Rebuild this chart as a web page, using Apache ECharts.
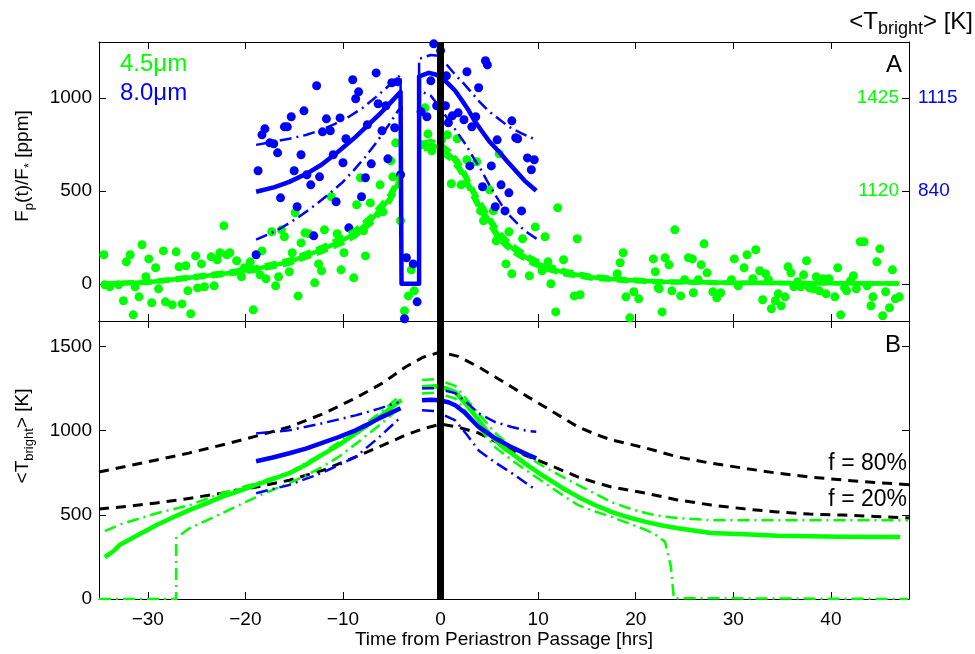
<!DOCTYPE html>
<html><head><meta charset="utf-8">
<script src="https://cdn.jsdelivr.net/npm/echarts@6/dist/echarts.min.js"></script>
<style>html,body{margin:0;padding:0;background:#fff}#c{width:975px;height:654px}</style>
</head><body><div id="c"></div>
<script>
// ---------- DATA ----------
const xRange = [-35, 48];
const fluxRange = [-200, 1300];
const tempRange = [0, 1650];
const rightTickGreen = {1000: '1425', 500: '1120'};
const rightTickBlue = {1000: '1115', 500: '840'};

const green45 = [[-34.5,156],[-34.4,-5],[-33.9,-16],[-33.0,-5],[-32.5,-91],[-32.2,118],[-31.8,156],[-31.5,-167],[-31.3,-16],[-30.9,-70],[-30.6,210],[-30.2,38],[-29.9,134],[-29.6,-102],[-29.2,86],[-28.9,-27],[-28.4,177],[-28.2,-97],[-27.5,-113],[-27.1,172],[-26.8,91],[-26.5,-108],[-26.1,97],[-25.9,-38],[-25.6,-161],[-25.1,150],[-24.9,-22],[-24.5,107],[-24.2,-16],[-23.5,145],[-23.2,-11],[-22.9,129],[-22.6,167],[-22.2,312],[-21.9,156],[-21.6,167],[-20.9,124],[-20.4,38],[-20.1,86],[-19.5,118],[-19.2,-140],[-18.5,48],[-18.3,177],[-17.9,27],[-17.3,280],[-16.9,-11],[-16.6,38],[-16.3,290],[-16.0,253],[-15.5,65],[-15.2,167],[-14.9,382],[-14.6,-65],[-14.3,220],[-13.9,274],[-13.5,269],[-12.9,5],[-12.5,107],[-12.2,70],[-11.9,290],[-11.2,468],[-10.6,269],[-10.2,75],[-9.9,167],[-8.9,32],[-8.6,425],[-8.2,570],[-7.9,285],[-7.7,150],[-7.2,435],[-6.2,532],[-5.9,387],[-5.1,661],[-4.9,575],[-4.6,758],[-4.1,339],[-3.7,-145],[-3.3,-65],[-3.0,75],[-2.7,-38],[-1.8,747],[-1.6,946],[-1.3,806],[-0.9,715],[0.1,774],[0.7,801],[1.1,538],[1.7,780],[2.1,532],[2.7,667],[3.7,656],[4.1,392],[4.4,339],[5.0,505],[5.4,392],[5.7,231],[6.0,699],[6.7,107],[7.0,280],[7.3,54],[8.4,242],[9.1,43],[9.7,306],[10.4,70],[10.7,253],[11.0,118],[11.3,0],[11.8,-151],[12.0,409],[12.6,129],[13.7,-65],[14.0,242],[14.3,-59],[18.1,54],[18.4,113],[18.7,167],[19.0,-70],[19.4,-183],[19.8,-43],[20.3,-81],[21.8,134],[22.0,65],[22.3,-22],[22.4,-27],[22.7,-151],[23.0,140],[23.4,102],[23.7,-38],[24.0,290],[24.6,-65],[25.0,22],[25.4,140],[25.8,134],[25.9,-48],[26.4,22],[26.7,102],[27.0,215],[27.3,59],[27.9,-43],[28.3,-75],[28.7,-48],[29.8,22],[30.1,134],[30.5,-11],[31.1,86],[31.4,156],[32.0,27],[32.3,183],[32.7,70],[33.0,-86],[33.3,54],[33.6,22],[33.9,-134],[34.3,-91],[34.6,-54],[34.9,-118],[35.3,-70],[35.6,91],[35.9,59],[36.2,-16],[36.6,11],[36.9,-16],[37.2,48],[37.5,124],[37.8,-22],[38.2,-27],[38.5,38],[38.8,-38],[39.2,27],[39.5,-54],[39.8,27],[40.4,-70],[40.7,86],[41.0,-167],[41.4,-22],[41.6,-38],[42.0,16],[42.3,43],[42.6,-27],[43.0,226],[43.4,226],[43.7,-11],[44.1,-118],[44.3,-70],[44.7,118],[45.0,188],[45.3,-172],[45.6,-43],[46.0,-129],[46.3,75],[46.6,-81],[47.0,-70]];

const blue80 = [[-18.9,156],[-18.7,608],[-18.3,801],[-18.0,833],[-17.5,758],[-17.1,753],[-16.7,704],[-16.4,462],[-16.0,844],[-15.7,844],[-15.3,898],[-15.0,608],[-14.7,414],[-14.3,694],[-14.0,930],[-13.7,586],[-13.3,532],[-13.0,258],[-12.7,1065],[-12.4,575],[-12.1,817],[-11.7,887],[-11.3,823],[-11.0,694],[-10.7,441],[-10.3,892],[-10.0,651],[-9.7,780],[-9.4,301],[-9.0,1097],[-8.7,995],[-8.4,1032],[-8.1,468],[-7.7,570],[-7.5,855],[-7.1,645],[-6.6,1134],[-6.4,968],[-6.0,823],[-5.6,957],[-5.4,672],[-5.0,1081],[-4.7,839],[-4.4,1086],[-4.1,586],[-3.7,-188],[-3.5,140],[-2.8,107],[-2.4,-97],[-2.0,925],[-1.4,898],[-1.0,1091],[-0.7,1290],[-0.4,957],[0.0,1253],[0.5,957],[0.6,1118],[0.8,866],[1.2,903],[1.8,919],[2.4,882],[2.7,1140],[3.0,634],[3.2,844],[3.6,898],[3.9,1054],[4.3,522],[4.6,1199],[4.8,1177],[5.2,634],[5.6,414],[5.8,774],[6.2,532],[6.6,392],[7.0,489],[7.3,876],[7.7,785],[7.9,780],[8.3,392],[8.9,677],[9.3,613],[9.6,667]];

// model flux curves (null = gap)
const greenFlux = [[-34.5,0],[-30,8],[-25.8,32],[-22,55],[-18.9,80],[-15.5,118],[-12.2,183],[-10,235],[-8.7,274],[-7.1,344],[-5.3,452],[-4.3,548],[-4.0,575],[-3,null],[-1.7,740],[-1.0,750],[0.1,725],[1.0,690],[1.8,640],[2.5,575],[3.2,500],[3.9,430],[4.6,371],[5.9,263],[6.8,215],[7.7,177],[9.3,124],[11.0,86],[12.8,59],[15.4,35],[18.5,22],[22.3,11],[30,5],[40,3],[47,2]];
const greenFluxUp = [[-34.5,6],[-30,15],[-25.8,41],[-22,66],[-18.9,93],[-15.5,133],[-12.2,201],[-10,256],[-8.7,297],[-7.1,369],[-5.3,479],[-4.3,576],[-4.0,602],[-3,null],[-1.7,762],[-1.0,772],[0.1,750],[1.0,714],[1.8,666],[2.5,602],[3.2,528],[3.9,459],[4.6,399],[5.9,289],[6.8,239],[7.7,199],[9.3,143],[11.0,102],[12.8,73],[15.4,46],[18.5,31],[22.3,18],[30,10],[40,7],[47,6]];
const greenFluxLo = [[-34.5,-5],[-30,2],[-25.8,24],[-22,45],[-18.9,68],[-15.5,104],[-12.2,166],[-10,215],[-8.7,252],[-7.1,320],[-5.3,426],[-4.3,521],[-4.0,548],[-3,null],[-1.7,718],[-1.0,728],[0.1,700],[1.0,666],[1.8,614],[2.5,548],[3.2,472],[3.9,402],[4.6,344],[5.9,238],[6.8,192],[7.7,156],[9.3,106],[11.0,71],[12.8,46],[15.4,25],[18.5,13],[22.3,4],[30,0],[40,-1],[47,-2]];

const blueFlux = [[-18.9,495],[-17,520],[-15.5,548],[-13.8,590],[-12.2,640],[-10.5,710],[-8.7,790],[-7.5,850],[-6.3,909],[-5.2,970],[-4.1,1032],[-4.0,1040],[-4.0,0],[-2.2,0],[-2.2,1115],[-2.0,1124],[-1.2,1134],[-0.5,1125],[0.1,1108],[0.8,1075],[1.5,1038],[2.2,985],[2.9,930],[3.5,875],[4.2,823],[5.0,765],[5.9,715],[6.8,660],[7.7,608],[8.6,555],[9.8,500]];
const blueFluxUp = [[-18.9,747],[-17,765],[-15.5,780],[-13.8,800],[-12.2,828],[-10.8,860],[-9.4,898],[-8,945],[-6.6,1005],[-5.3,1065],[-4.1,1124],[-4.0,1126],[-4.0,0],[-2.2,0],[-2.2,1210],[-1.0,1230],[-0.2,1226],[0.6,1180],[1.5,1124],[2.4,1075],[3.2,1027],[4.0,978],[4.9,930],[6.0,885],[7.0,844],[8.2,812],[9.3,785],[9.8,775]];
const blueFluxLo = [[-18.9,237],[-17.5,270],[-16.3,301],[-14.5,360],[-12.8,425],[-11.5,480],[-10.1,543],[-8.9,610],[-7.7,683],[-6.5,765],[-5.3,855],[-4.3,935],[-4.0,950],[-4.0,0],[-2.2,0],[-2.2,1040],[-1.0,1011],[-0.1,950],[0.8,882],[1.7,815],[2.6,747],[3.4,675],[4.2,608],[4.9,540],[5.6,478],[6.3,420],[7.0,371],[7.7,333],[8.3,301],[9.0,272],[9.7,247],[9.9,240]];

// brightness temperature curves
const f80 = [[-35,754],[-32,790],[-29.1,825],[-25.8,866],[-22.4,914],[-19,965],[-15.5,1021],[-12,1100],[-8.7,1193],[-6,1280],[-3.6,1377],[-1.8,1435],[0,1466],[1.8,1440],[3.9,1377],[5.6,1318],[7.3,1258],[9,1198],[10.7,1140],[12.4,1080],[14.1,1021],[15.8,980],[17.5,944],[21.0,897],[24.3,843],[27.7,806],[31.1,776],[34.5,747],[37.8,724],[41.3,706],[44.5,692],[48,678]];
const f20 = [[-35,534],[-32,550],[-29.1,570],[-25.8,597],[-22.4,628],[-19,663],[-15.5,705],[-12,765],[-8.7,843],[-6,910],[-3.6,973],[-1.8,1010],[0,1038],[1.8,1020],[3.9,985],[5.6,935],[7.3,885],[9,845],[10.7,806],[12.4,765],[14.1,724],[15.8,693],[17.5,665],[21.0,628],[24.3,588],[27.7,558],[31.1,535],[34.5,517],[37.8,504],[41.3,498],[44.5,490],[48,481]];

const greenT = [[-34.4,249],[-33.5,285],[-32.9,320],[-31,380],[-29.1,439],[-27.4,485],[-25.7,529],[-24,568],[-22.4,606],[-20.6,642],[-18.9,677],[-17.2,712],[-15.5,747],[-13.8,797],[-12.2,854],[-10.4,915],[-8.7,983],[-7.5,1030],[-6.3,1078],[-5.3,1125],[-4.3,1168],[-4.0,1180],[-3,null],[-1.9,1257],[-0.5,1263],[0.5,1250],[1.5,1228],[2.7,1150],[3.9,1062],[4.7,1000],[5.6,944],[6.4,900],[7.3,864],[9,790],[10.7,724],[12.4,662],[14.1,606],[15.8,558],[17.5,517],[19.2,485],[21.0,458],[22.6,438],[24.3,420],[27.7,392],[31.1,385],[34.5,375],[37.8,373],[41,370],[47.1,368]];
const greenTUp = [[-34.4,403],[-32.7,445],[-29.1,509],[-25.7,557],[-22.4,628],[-18.9,688],[-15.5,752],[-12.2,860],[-8.7,1000],[-6.3,1100],[-4.3,1200],[-3,null],[-1.9,1300],[-0.5,1305],[1.5,1265],[3.9,1100],[5.6,985],[7.3,900],[9,840],[10.7,782],[12.4,728],[14.1,676],[15.8,625],[17.5,575],[19.2,540],[21.0,510],[22.6,492],[24.3,480],[27.7,468],[35,468],[47.9,468]];
const greenTLo = [[-35,0],[-27.1,0],[-27.1,361],[-25.7,421],[-24,465],[-22.4,509],[-20.6,558],[-18.9,606],[-17.2,648],[-15.5,688],[-13.8,733],[-12.2,782],[-10.4,845],[-8.7,920],[-6.3,1030],[-4.3,1130],[-3,null],[-1.9,1220],[-0.5,1225],[1.5,1190],[3.9,1020],[5.6,900],[7.3,823],[9,755],[10.7,688],[12.4,620],[14.1,557],[15.8,520],[17.5,488],[19.2,450],[21.0,411],[22.2,375],[23.0,340],[23.6,192],[23.9,5],[24.0,0],[47.9,0]];

const blueT = [[-18.9,818],[-17.2,840],[-15.5,865],[-13.8,893],[-12.2,925],[-10.5,960],[-8.7,1001],[-7.5,1035],[-6.3,1072],[-5.2,1102],[-4.1,1132],[-3,null],[-1.9,1180],[-1.0,1183],[-0.2,1180],[0.8,1168],[1.5,1150],[2.5,1105],[3.9,1021],[5.6,954],[7.3,900],[9,855],[9.8,835]];
const blueTUp = [[-18.9,983],[-15.5,1001],[-12.2,1042],[-8.7,1090],[-6.3,1130],[-4.3,1168],[-3,null],[-1.9,1251],[-0.5,1250],[1.5,1222],[2.7,1165],[3.9,1102],[5.6,1050],[7.3,1021],[8.7,1000],[9.8,992]];
const blueTLo = [[-18.9,628],[-15.5,677],[-12.2,747],[-8.7,843],[-6.3,960],[-4.1,1078],[-3,null],[-1.9,1120],[-0.5,1115],[1.5,1060],[2.7,975],[3.9,882],[5.6,810],[7.3,747],[8.7,690],[9.8,647]];

const periastron = 0;

// ---------- CHART ----------
const FONT = 'Liberation Sans';
const G = '#00ff00', B = '#0000ff', K = '#000000';
const chart = echarts.init(document.getElementById('c'), null, {renderer: 'canvas'});

const plain = v => String(v).replace('-', '\u2212');
function xAx(grid, pos, labels) {
  return {type: 'value', gridIndex: grid, position: pos, min: xRange[0], max: xRange[1], splitNumber: 8,
    axisLine: {onZero: false, lineStyle: {color: K, width: 1}},
    axisTick: {inside: true, length: 7, lineStyle: {color: K}},
    splitLine: {show: false},
    axisLabel: {show: labels, showMinLabel: false, showMaxLabel: false, color: K, fontFamily: FONT, fontSize: 19, margin: 11, formatter: plain}};
}
function yAx(grid, pos, range, opt, showMin) {
  const a = {type: 'value', gridIndex: grid, position: pos, min: range[0], max: range[1],
    axisLine: {onZero: false, lineStyle: {color: K, width: 1}},
    axisTick: {inside: true, length: 7, lineStyle: {color: K}},
    splitLine: {show: false},
    axisLabel: {show: true, showMinLabel: !!showMin, showMaxLabel: false, color: K, fontFamily: FONT, fontSize: 19, margin: 7, formatter: plain}};
  return Object.assign(a, opt || {});
}
function line(data, color, width, type, xi, yi, z) {
  return {type: 'line', data: data, xAxisIndex: xi, yAxisIndex: yi, showSymbol: false, symbol: 'none',
    connectNulls: false, animation: false, silent: true, z: z || 3,
    lineStyle: {color: color, width: width, type: type, cap: 'butt', join: 'round'}};
}
const dashdot = [12, 5, 2, 5];
const vline = {silent: true, symbol: 'none', label: {show: false}, animation: false,
  lineStyle: {color: K, width: 7, type: 'solid'}, data: [{xAxis: periastron}]};

function subStyle(fs) { return {fontFamily: FONT, fontSize: fs, lineHeight: fs + 1, verticalAlign: 'bottom', color: K}; }
function mainStyle(fs) { return {fontFamily: FONT, fontSize: fs, lineHeight: Math.round(fs * 1.37), color: K}; }

const option = {
  animation: false,
  backgroundColor: '#fff',
  grid: [{left: 99, top: 42, width: 810, height: 279}, {left: 99, top: 321, width: 810, height: 278}],
  xAxis: [xAx(0, 'bottom', false), xAx(0, 'top', false), xAx(1, 'bottom', true), xAx(1, 'top', false)],
  yAxis: [
    yAx(0, 'left', fluxRange, {splitNumber: 3}),
    yAx(0, 'right', fluxRange, {splitNumber: 3, axisLabel: {inside: true, showMinLabel: false, showMaxLabel: false, color: G, fontFamily: FONT, fontSize: 19, margin: 10, formatter: v => rightTickGreen[v] || ''}}),
    yAx(0, 'right', fluxRange, {splitNumber: 3, axisLine: {show: false, onZero: false}, axisTick: {show: false}, axisLabel: {showMinLabel: false, showMaxLabel: false, color: B, fontFamily: FONT, fontSize: 19, margin: 9, formatter: v => rightTickBlue[v] || ''}}),
    yAx(1, 'left', tempRange, {interval: 500}, true),
    yAx(1, 'right', tempRange, {interval: 500, axisLabel: {show: false}})
  ],
  series: [
    {type: 'scatter', data: green45, xAxisIndex: 0, yAxisIndex: 0, symbolSize: 9, itemStyle: {color: G, opacity: 1}, z: 2, silent: true},
    {type: 'scatter', data: blue80, xAxisIndex: 0, yAxisIndex: 0, symbolSize: 9, itemStyle: {color: B, opacity: 1}, z: 2, silent: true},
    line(greenFluxUp, G, 3, 'dashed', 0, 0),
    line(greenFluxLo, G, 3, 'dashed', 0, 0),
    line(greenFlux, G, 4.5, 'solid', 0, 0),
    line(blueFluxUp, B, 2.5, dashdot, 0, 0, 4),
    line(blueFluxLo, B, 2.5, dashdot, 0, 0, 4),
    Object.assign(line(blueFlux, B, 4.5, 'solid', 0, 0, 4), {markLine: vline}),

    line(f80, K, 3, [10, 7], 2, 3),
    line(f20, K, 3, [10, 7], 2, 3),
    line(greenTUp, G, 2.5, dashdot, 2, 3),
    line(greenTLo, G, 2.5, dashdot, 2, 3),
    line(greenT, G, 4.5, 'solid', 2, 3),
    line(blueTUp, B, 2.5, dashdot, 2, 3, 4),
    line(blueTLo, B, 2.5, dashdot, 2, 3, 4),
    Object.assign(line(blueT, B, 4.5, 'solid', 2, 3, 4), {markLine: vline})
  ],
  graphic: [
    {type: 'text', left: 120, top: 52, z: 10, style: {text: '4.5\u03bcm', fill: G, font: '24px ' + FONT}},
    {type: 'text', left: 120, top: 81, z: 10, style: {text: '8.0\u03bcm', fill: B, font: '24px ' + FONT}},
    {type: 'text', x: 902, y: 65.5, z: 10, style: {text: 'A', fill: K, font: '24px ' + FONT, align: 'right', verticalAlign: 'middle'}},
    {type: 'text', x: 901, y: 345.5, z: 10, style: {text: 'B', fill: K, font: '24px ' + FONT, align: 'right', verticalAlign: 'middle'}},
    {type: 'text', x: 907, y: 463.5, z: 10, style: {text: 'f = 80%', fill: K, font: '23px ' + FONT, align: 'right', verticalAlign: 'middle'}},
    {type: 'text', x: 907, y: 500, z: 10, style: {text: 'f = 20%', fill: K, font: '23px ' + FONT, align: 'right', verticalAlign: 'middle'}},
    {type: 'text', x: 504, y: 640, z: 10, style: {text: 'Time from Periastron Passage [hrs]', fill: K, font: '19px ' + FONT, align: 'center', verticalAlign: 'middle'}},
    {type: 'text', x: 23, y: 166, rotation: Math.PI / 2, z: 10, style: {
      text: '{a|F}{s|p}{a|(t)/F}{s|*}{a| [ppm]}', align: 'center', verticalAlign: 'middle',
      rich: {a: mainStyle(19), s: subStyle(13)}}},
    {type: 'text', x: 23, y: 436, rotation: Math.PI / 2, z: 10, style: {
      text: '{a|<T}{s|bright}{a|> [K]}', align: 'center', verticalAlign: 'middle',
      rich: {a: mainStyle(19), s: subStyle(13)}}},
    {type: 'text', x: 973, y: 22, z: 10, style: {
      text: '{a|<T}{s|bright}{a|> [K]}', align: 'right', verticalAlign: 'middle',
      rich: {a: mainStyle(24), s: subStyle(18)}}}
  ]
};
chart.setOption(option);
</script></body></html>
